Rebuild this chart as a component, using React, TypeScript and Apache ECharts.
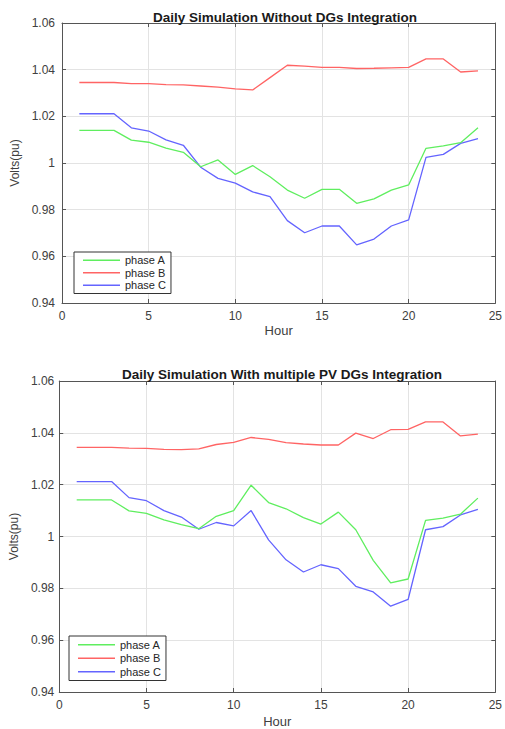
import React, { useEffect, useRef } from "react";
import * as echarts from "echarts";

const hours = [1, 2, 3, 4, 5, 6, 7, 8, 9, 10, 11, 12, 13, 14, 15, 16, 17, 18, 19, 20, 21, 22, 23, 24];
const seriesNames = ["phase A", "phase B", "phase C"];
const titles = ["Daily Simulation Without DGs Integration", "Daily Simulation With multiple PV DGs Integration"];

const topPhaseA = [1.014, 1.014, 1.014, 1.0098, 1.0089, 1.0064, 1.0046, 0.9984, 1.0013, 0.9951, 0.9989, 0.9941, 0.9884, 0.9849, 0.9887, 0.9887, 0.9827, 0.9846, 0.9884, 0.9906, 1.0063, 1.0073, 1.0087, 1.0151];
const topPhaseB = [1.0345, 1.0345, 1.0345, 1.034, 1.034, 1.0336, 1.0335, 1.033, 1.0325, 1.0318, 1.0313, 1.0366, 1.0419, 1.0415, 1.041, 1.041, 1.0405, 1.0406, 1.0408, 1.041, 1.0446, 1.0446, 1.039, 1.0395];
const topPhaseC = [1.0211, 1.0211, 1.0211, 1.0151, 1.0137, 1.0099, 1.0076, 0.9982, 0.9934, 0.9914, 0.9876, 0.9856, 0.9753, 0.9701, 0.973, 0.973, 0.9649, 0.9674, 0.973, 0.9756, 1.0024, 1.0037, 1.0084, 1.0104];

const botPhaseA = [1.0141, 1.0141, 1.0141, 1.0099, 1.0089, 1.0064, 1.0046, 1.003, 1.0078, 1.01, 1.0198, 1.0131, 1.0107, 1.0073, 1.0048, 1.0094, 1.0026, 0.9908, 0.9821, 0.9836, 1.0062, 1.0071, 1.0086, 1.0148];
const botPhaseB = [1.0344, 1.0344, 1.0344, 1.0341, 1.034, 1.0336, 1.0335, 1.0338, 1.0355, 1.0363, 1.0382, 1.0375, 1.0362, 1.0357, 1.0353, 1.0353, 1.0399, 1.0378, 1.0412, 1.0413, 1.0442, 1.0442, 1.0388, 1.0395];
const botPhaseC = [1.0212, 1.0212, 1.0212, 1.015, 1.0138, 1.01, 1.0075, 1.0028, 1.0054, 1.0041, 1.01, 0.9987, 0.991, 0.9863, 0.9891, 0.9876, 0.9808, 0.9786, 0.9731, 0.9757, 1.0026, 1.0038, 1.0083, 1.0105];

const xMin = 0, xMax = 25, xInterval = 5;
const yMin = 0.94, yMax = 1.06, yInterval = 0.02;

const colors = ["#5fee5f", "#ff6464", "#6464ff"];
const FONT = "Arial, 'Liberation Sans', sans-serif";
const AXIS_COLOR = "#555555";
const LABEL_COLOR = "#404040";
const GRID_COLOR = "#e3e3e3";

export default function App() {
  const ref = useRef<HTMLDivElement>(null);
  useEffect(() => {
    if (!ref.current) return;
    const chart = echarts.init(ref.current, undefined, { renderer: "svg" });

    const grids = [
      { left: 62, top: 23, width: 436, height: 280 },
      { left: 57, top: 381, width: 441, height: 312 },
    ];
    const nameGapsX = [21, 23];
    const nameGapsY = [34, 38];

    const xAxes: any[] = [];
    const yAxes: any[] = [];
    grids.forEach((_, gi) => {
      xAxes.push({
        type: "value", gridIndex: gi, min: xMin, max: xMax, interval: xInterval, position: "bottom",
        name: "Hour", nameLocation: "middle", nameGap: nameGapsX[gi],
        nameTextStyle: { fontSize: 13, color: LABEL_COLOR, fontFamily: FONT },
        axisLine: { show: true, onZero: false, lineStyle: { color: AXIS_COLOR, width: 1 } },
        axisTick: { show: true, inside: true, length: 4, lineStyle: { color: AXIS_COLOR } },
        axisLabel: { fontSize: 12, color: LABEL_COLOR, fontFamily: FONT, margin: 7 },
        splitLine: { show: true, lineStyle: { color: GRID_COLOR, width: 1 } },
      });
      xAxes.push({
        type: "value", gridIndex: gi, min: xMin, max: xMax, interval: xInterval, position: "top",
        axisLine: { show: true, onZero: false, lineStyle: { color: AXIS_COLOR, width: 1 } },
        axisTick: { show: true, inside: true, length: 4, lineStyle: { color: AXIS_COLOR } },
        axisLabel: { show: false }, splitLine: { show: false },
      });
      yAxes.push({
        type: "value", gridIndex: gi, min: yMin, max: yMax, interval: yInterval, position: "left",
        name: "Volts(pu)", nameLocation: "middle", nameGap: nameGapsY[gi], nameRotate: 90,
        nameTextStyle: { fontSize: 12, color: LABEL_COLOR, fontFamily: FONT },
        axisLine: { show: true, onZero: false, lineStyle: { color: AXIS_COLOR, width: 1 } },
        axisTick: { show: true, inside: true, length: 4, lineStyle: { color: AXIS_COLOR } },
        axisLabel: {
          fontSize: 12, color: LABEL_COLOR, fontFamily: FONT, margin: gi === 0 ? 7 : 5,
          formatter: (v: number) => String(Number(v.toFixed(2))),
        },
        splitLine: { show: true, lineStyle: { color: GRID_COLOR, width: 1 } },
      });
      yAxes.push({
        type: "value", gridIndex: gi, min: yMin, max: yMax, interval: yInterval, position: "right",
        axisLine: { show: true, onZero: false, lineStyle: { color: AXIS_COLOR, width: 1 } },
        axisTick: { show: true, inside: true, length: 4, lineStyle: { color: AXIS_COLOR } },
        axisLabel: { show: false }, splitLine: { show: false },
      });
    });

    const dataSets = [
      [topPhaseA, topPhaseB, topPhaseC],
      [botPhaseA, botPhaseB, botPhaseC],
    ];
    const series: any[] = [];
    dataSets.forEach((set, gi) => {
      set.forEach((vals, si) => {
        series.push({
          type: "line",
          name: seriesNames[si],
          xAxisIndex: gi * 2,
          yAxisIndex: gi * 2,
          data: hours.map((h, i) => [h, vals[i]]),
          symbol: "none",
          showSymbol: false,
          lineStyle: { color: colors[si], width: 1.3 },
          itemStyle: { color: colors[si] },
          z: 3 - si,
        });
      });
    });

    const legendBase = {
      orient: "vertical",
      itemWidth: 37,
      itemHeight: 8,
      itemGap: 0,
      backgroundColor: "#ffffff",
      borderColor: "#333333",
      borderWidth: 1,
      icon: "path://M0,0 L37,0 L37,1.3 L0,1.3 Z",
      data: seriesNames.map((n, i) => ({ name: n, itemStyle: { color: colors[i] } })),
    };

    chart.setOption({
      animation: false,
      backgroundColor: "#ffffff",
      textStyle: { fontFamily: FONT },
      title: [
        {
          text: titles[0], left: 280, top: 5, textAlign: "center",
          textStyle: { fontSize: 13.5, fontWeight: "bold", color: "#1a1a1a", fontFamily: FONT },
        },
        {
          text: titles[1], left: 277, top: 362, textAlign: "center",
          textStyle: { fontSize: 13.5, fontWeight: "bold", color: "#1a1a1a", fontFamily: FONT },
        },
      ],
      legend: [
        {
          ...legendBase,
          left: 74, top: 252,
          padding: [2, 5, 2, 9],
          textStyle: { fontSize: 11, color: "#262626", fontFamily: FONT, lineHeight: 12.5, height: 12.5 },
        },
        {
          ...legendBase,
          left: 69, top: 636,
          padding: [2, 5, 2, 9],
          textStyle: { fontSize: 11, color: "#262626", fontFamily: FONT, lineHeight: 13.5, height: 13.5 },
        },
      ],
      grid: grids.map((g) => ({ ...g, containLabel: false, show: false })),
      xAxis: xAxes,
      yAxis: yAxes,
      series,
    });
    return () => chart.dispose();
  }, []);
  return (
    <div
      ref={ref}
      style={{ position: "fixed", left: 0, top: 0, width: 505, height: 729, background: "#fff" }}
    />
  );
}
